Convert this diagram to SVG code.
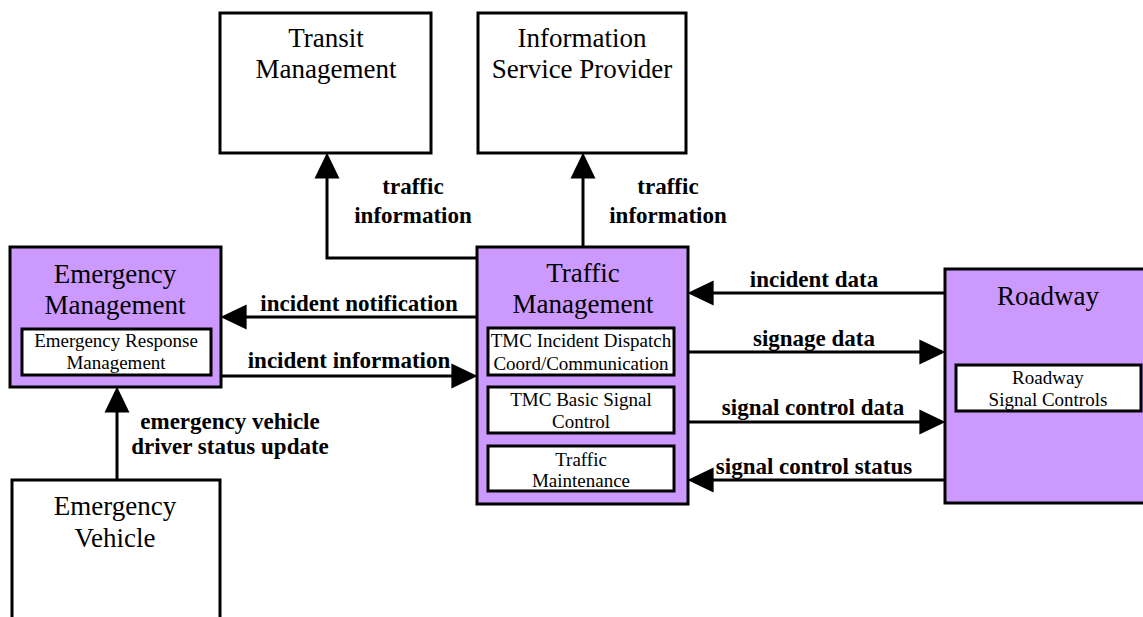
<svg xmlns="http://www.w3.org/2000/svg" width="1143" height="617" viewBox="0 0 1143 617">
<style>
.box{fill:#ffffff;stroke:#000;stroke-width:3}
.pbox{fill:#cc99ff;stroke:#000;stroke-width:3}
.ibox{fill:#ffffff;stroke:#000;stroke-width:3}
.t{font-family:"Liberation Serif","Times New Roman",serif;font-size:27px;text-anchor:middle;fill:#000}
.s{font-family:"Liberation Serif","Times New Roman",serif;font-size:19px;text-anchor:middle;fill:#000}
.l{font-family:"Liberation Serif","Times New Roman",serif;font-size:23px;font-weight:bold;text-anchor:middle;fill:#000}
.c{fill:none;stroke:#000;stroke-width:3;marker-end:url(#ah)}
</style>
<defs>
<marker id="ah" markerUnits="userSpaceOnUse" markerWidth="26" markerHeight="26" viewBox="0 0 25 24" refX="15" refY="12" orient="auto">
<path d="M0,0 L25,12 L0,24 z" fill="#000"/>
</marker>
</defs>
<rect width="1143" height="617" fill="#fff"/>

<g id="transit-management">
<rect class="box" x="220" y="13" width="211" height="140"/>
<text class="t" x="326" y="47">Transit</text>
<text class="t" x="326" y="78">Management</text>
</g>

<g id="information-service-provider">
<rect class="box" x="478" y="13" width="208" height="140"/>
<text class="t" x="582" y="47">Information</text>
<text class="t" x="582" y="78">Service Provider</text>
</g>

<g id="emergency-management">
<rect class="pbox" x="10" y="247" width="211" height="140"/>
<text class="t" x="115" y="283">Emergency</text>
<text class="t" x="115" y="314">Management</text>
<rect class="ibox" x="22" y="329" width="189" height="46"/>
<text class="s" x="116" y="347">Emergency Response</text>
<text class="s" x="116" y="369">Management</text>
</g>

<g id="traffic-management">
<rect class="pbox" x="477" y="247" width="211" height="257"/>
<text class="t" x="583" y="282">Traffic</text>
<text class="t" x="583" y="313">Management</text>
<rect class="ibox" x="488" y="328" width="186" height="47"/>
<text class="s" x="581" y="347">TMC Incident Dispatch</text>
<text class="s" x="581" y="370">Coord/Communication</text>
<rect class="ibox" x="488" y="387" width="186" height="46"/>
<text class="s" x="581" y="406">TMC Basic Signal</text>
<text class="s" x="581" y="428">Control</text>
<rect class="ibox" x="488" y="446" width="186" height="45"/>
<text class="s" x="581" y="466">Traffic</text>
<text class="s" x="581" y="487">Maintenance</text>
</g>

<g id="roadway">
<rect class="pbox" x="945" y="269" width="215" height="234"/>
<text class="t" x="1048" y="305">Roadway</text>
<rect class="ibox" x="956" y="365" width="185" height="46"/>
<text class="s" x="1048" y="384">Roadway</text>
<text class="s" x="1048" y="406">Signal Controls</text>
</g>

<g id="emergency-vehicle">
<rect class="box" x="12" y="480" width="208" height="160"/>
<text class="t" x="115" y="515">Emergency</text>
<text class="t" x="115" y="547">Vehicle</text>
</g>

<g id="connectors">
<path class="c" d="M477,258 H327 V163"/>
<path class="c" d="M583,247 V163"/>
<path class="c" d="M477,317 H231"/>
<path class="c" d="M221,376 H467"/>
<path class="c" d="M945,293 H698"/>
<path class="c" d="M688,352 H935"/>
<path class="c" d="M688,422 H935"/>
<path class="c" d="M945,480 H698"/>
<path class="c" d="M117,480 V397"/>
<text class="l" x="413" y="194">traffic</text>
<text class="l" x="413" y="223">information</text>
<text class="l" x="668" y="194">traffic</text>
<text class="l" x="668" y="223">information</text>
<text class="l" x="359" y="311">incident notification</text>
<text class="l" x="349" y="368">incident information</text>
<text class="l" x="814" y="287">incident data</text>
<text class="l" x="814" y="346">signage data</text>
<text class="l" x="813" y="415">signal control data</text>
<text class="l" x="814" y="474">signal control status</text>
<text class="l" x="230" y="429">emergency vehicle</text>
<text class="l" x="230" y="454">driver status update</text>
</g>
</svg>
